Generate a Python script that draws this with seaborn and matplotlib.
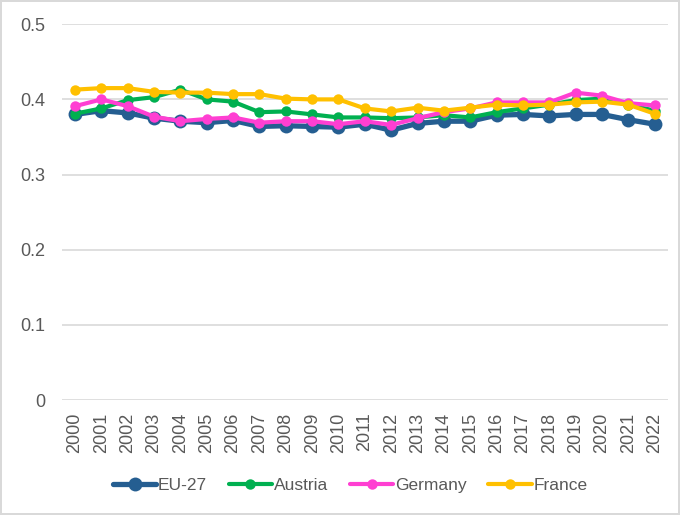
import pandas as pd
import seaborn as sns
import matplotlib.pyplot as plt

years = list(range(2000, 2023))

eu27 = [0.380, 0.385, 0.382, 0.375, 0.371, 0.369, 0.372, 0.364, 0.365, 0.364, 0.363, 0.367,
        0.359, 0.368, 0.371, 0.371, 0.379, 0.380, 0.378, 0.380, 0.380, 0.373, 0.367]
austria = [0.381, 0.388, 0.399, 0.403, 0.413, 0.400, 0.397, 0.383, 0.384, 0.380, 0.376, 0.376,
           0.375, 0.376, 0.379, 0.376, 0.383, 0.388, 0.393, 0.399, 0.401, 0.393, 0.385]
germany = [0.391, 0.400, 0.391, 0.377, 0.371, 0.374, 0.376, 0.369, 0.371, 0.371, 0.367, 0.371,
           0.366, 0.375, 0.383, 0.388, 0.396, 0.396, 0.396, 0.409, 0.405, 0.395, 0.392]
france = [0.413, 0.415, 0.415, 0.410, 0.409, 0.409, 0.407, 0.407, 0.401, 0.400, 0.400, 0.388,
          0.384, 0.389, 0.385, 0.389, 0.393, 0.392, 0.393, 0.396, 0.397, 0.393, 0.381]

series = ["EU-27", "Austria", "Germany", "France"]
colors = ["#255E91", "#00B050", "#FF3FD2", "#FFC000"]

df = pd.DataFrame({"year": years, "EU-27": eu27, "Austria": austria,
                   "Germany": germany, "France": france})
long_df = df.melt(id_vars="year", var_name="country", value_name="value")

sns.set_style("white")
plt.rcParams["font.family"] = ["Liberation Sans", "DejaVu Sans"]

fig = plt.figure(figsize=(6.8, 5.15), dpi=100)
fig.patch.set_edgecolor("#D9D9D9")
fig.patch.set_linewidth(1.5)
ax = fig.add_axes([0.091, 0.223, 0.891, 0.730])

for name, color in zip(series, colors):
    sub = long_df[long_df["country"] == name]
    big = name == "EU-27"
    sns.lineplot(data=sub, x="year", y="value", ax=ax, color=color,
                 linewidth=3.8 if big else 3.0, marker="o",
                 markersize=10 if big else 7.5, markeredgewidth=0,
                 label=name)

ax.set_xlim(1999.5, 2022.5)
ax.set_ylim(0, 0.5)
ax.set_yticks([0, 0.1, 0.2, 0.3, 0.4, 0.5])
ax.set_yticklabels(["0", "0.1", "0.2", "0.3", "0.4", "0.5"])
ax.set_xticks(years)
ax.set_xticklabels([str(y) for y in years], rotation=90)
ax.tick_params(axis="both", labelsize=13, labelcolor="#595959", length=0)
ax.tick_params(axis="y", pad=12)
ax.tick_params(axis="x", pad=9)
ax.grid(axis="y", color="#D9D9D9", linewidth=1.2)
ax.set_axisbelow(True)
for side in ["top", "right", "left", "bottom"]:
    ax.spines[side].set_visible(False)
ax.set_xlabel("")
ax.set_ylabel("")

handles, labels = ax.get_legend_handles_labels()
ax.get_legend().remove()
fig.legend(handles, labels, loc="center", bbox_to_anchor=(0.515, 0.058), ncol=4,
           frameon=False, fontsize=12.5, labelcolor="#595959",
           handlelength=2.5, handletextpad=0.1, columnspacing=1.25)

fig.savefig("out.png", dpi=100)
